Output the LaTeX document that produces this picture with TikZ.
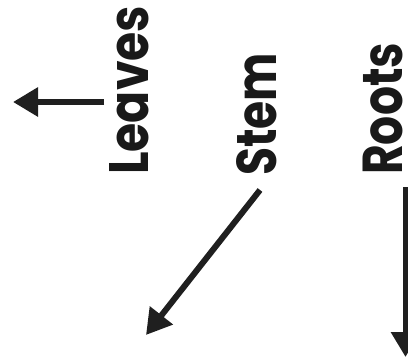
\documentclass[tikz,border=0pt]{standalone}
\usepackage{fontspec}
\setmainfont{Poppins}[BoldFont={* Bold}]
\usetikzlibrary{arrows.meta}
\newcommand{\lbltext}[3]{\resizebox{#1}{#2}{\bfseries #3}}
\begin{document}
\begin{tikzpicture}[x=1pt,y=-1pt,
  lbl/.style={rotate=90,anchor=base west,inner sep=0pt,font=\fontsize{40}{40}\selectfont,text=black!90},
  arr/.style={line width=6pt,draw=black!88,-{Triangle[length=25pt,width=28pt]}}]
\useasboundingbox (0,0) rectangle (408,359);
\node[lbl] (leaves) at (148.5,175) {\lbltext{169pt}{39pt}{Leaves}};
\node[lbl] (stem) at (276,176) {\lbltext{123pt}{40pt}{Stem}};
\node[lbl] (roots) at (402.5,175) {\lbltext{132pt}{39.5pt}{Roots}};
\coordinate (la) at (104,102);
\coordinate (lb) at (13,102);
\coordinate (sa) at (260,190);
\coordinate (sb) at (146,335);
\coordinate (ra) at (405.5,187);
\coordinate (rb) at (405.5,357);
\draw[arr] (la) -- (lb);
\draw[arr] (sa) -- (sb);
\draw[arr] (ra) -- (rb);
\end{tikzpicture}
\end{document}
